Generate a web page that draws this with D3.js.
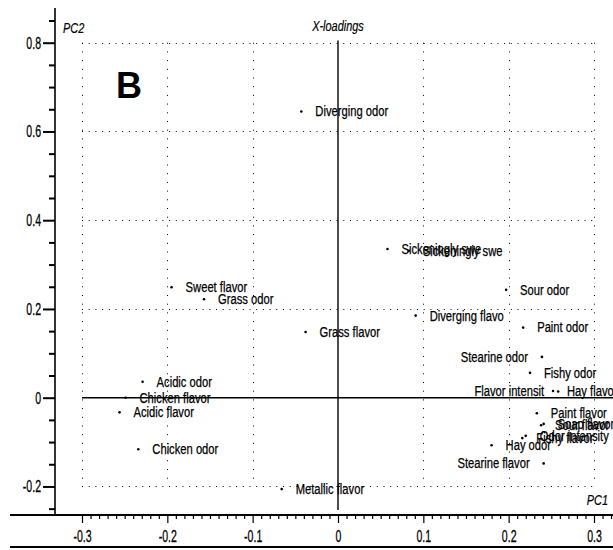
<!DOCTYPE html>
<html>
<head>
<meta charset="utf-8">
<script src="https://cdn.jsdelivr.net/npm/d3@7"></script>
<style>
  body { margin: 0; background: #fff; }
  svg { display: block; font-family: "Liberation Sans", Arial, sans-serif; }
</style>
</head>
<body>
<svg id="chart" width="613" height="550"></svg>
<script>
// Sensory attributes and their loadings on the first two principal components
const attributes = [
  "Diverging odor", "Sickeningly swe", "Sickeningly swe", "Sweet flavor", "Grass odor",
  "Sour odor", "Diverging flavo", "Paint odor", "Grass flavor", "Stearine odor",
  "Fishy  odor", "Acidic odor", "Flavor intensit", "Hay flavor", "Chicken flavor",
  "Acidic flavor", "Paint flavor", "Sour flavor", "Soap flavor", "Odor intensity",
  "Fishy flavor", "Hay odor", "Chicken odor", "Stearine flavor", "Metallic flavor"
];
const pc1 = [
  -0.043, 0.058, 0.083, -0.195, -0.157,
  0.197, 0.091, 0.217, -0.038, 0.239,
  0.225, -0.229, 0.258, 0.252, -0.249,
  -0.256, 0.233, 0.238, 0.241, 0.220,
  0.216, 0.180, -0.234, 0.241, -0.066
];
const pc2 = [
  0.645, 0.335, 0.331, 0.249, 0.222,
  0.243, 0.185, 0.158, 0.148, 0.092,
  0.056, 0.036, 0.014, 0.015, 0.000,
  -0.033, -0.035, -0.062, -0.059, -0.086,
  -0.091, -0.107, -0.116, -0.148, -0.206
];

// Tick values for the two axes
const xTickValues = [-0.3, -0.2, -0.1, 0, 0.1, 0.2, 0.3];
const yTickValues = [-0.2, 0, 0.2, 0.4, 0.6, 0.8];
const xGridValues = [-0.3, -0.2, -0.1, 0.1, 0.2, 0.3];
const yGridValues = [-0.2, 0.2, 0.4, 0.6, 0.8];

// Labels that sit to the left of their point (no room on the right)
const leftPlaced = ["Stearine odor", "Flavor intensit", "Stearine flavor"];

const W = 613, H = 550;
const svg = d3.select("#chart");

const x = d3.scaleLinear().domain([-0.3, 0.3]).range([82, 594]);
const y = d3.scaleLinear().domain([-0.2, 0.8]).range([486.45, 42.7]);

const fmt = v => (Math.abs(v) < 1e-9 ? "0" : String(+v.toFixed(2)));

// Squeeze text horizontally to mimic a narrow typeface
function condense(sel, f) {
  sel.each(function () {
    const w = this.getComputedTextLength();
    this.setAttribute("textLength", (w * f).toFixed(2));
    this.setAttribute("lengthAdjust", "spacingAndGlyphs");
  });
}
// Slightly heavier strokes for the narrow lettering
function ink(sel, w) {
  sel.attr("fill", "#000").attr("stroke", "#000").attr("stroke-width", w);
}

// ---- dotted grid ----
const grid = svg.append("g").attr("stroke", "#000").attr("fill", "none");
grid.selectAll("line.h").data(yGridValues).join("line")
  .attr("class", "h")
  .attr("x1", x(-0.3)).attr("x2", x(0.3))
  .attr("y1", d => Math.round(y(d)) + 0.5).attr("y2", d => Math.round(y(d)) + 0.5)
  .attr("stroke-width", 1).attr("stroke-dasharray", "1,5.7");
grid.selectAll("line.v").data(xGridValues).join("line")
  .attr("class", "v")
  .attr("x1", d => Math.round(x(d)) + 0.5).attr("x2", d => Math.round(x(d)) + 0.5)
  .attr("y1", y(0.8)).attr("y2", y(-0.2))
  .attr("stroke-width", 1).attr("stroke-dasharray", "1,7.7");

// ---- zero lines ----
svg.append("line")
  .attr("x1", x(-0.3)).attr("x2", W)
  .attr("y1", y(0)).attr("y2", y(0))
  .attr("stroke", "#000").attr("stroke-width", 1.6);
svg.append("line")
  .attr("x1", x(0)).attr("x2", x(0))
  .attr("y1", y(0.805)).attr("y2", y(-0.253))
  .attr("stroke", "#000").attr("stroke-width", 1.4);

// ---- left axis ----
const yAxisX = 55;
const yMinor = d3.range(-0.25, 0.851, 0.05).map(v => +v.toFixed(2))
  .filter(v => !yTickValues.some(t => Math.abs(t - v) < 1e-9));
const gyMinor = svg.append("g").attr("transform", `translate(${yAxisX},0)`)
  .call(d3.axisLeft(y).tickValues(yMinor).tickSize(6).tickFormat(""));
const gy = svg.append("g").attr("transform", `translate(${yAxisX},0)`)
  .call(d3.axisLeft(y).tickValues(yTickValues).tickSize(12).tickPadding(2).tickFormat(fmt));
[gy, gyMinor].forEach(g => {
  g.select(".domain").remove();
  g.selectAll(".tick line").attr("stroke", "#000").attr("stroke-width", 2);
});
gy.selectAll(".tick text")
  .attr("font-size", 17)
  .attr("font-family", "'Liberation Sans', Arial, sans-serif")
  .call(ink, 0.3)
  .call(condense, 0.62);
svg.append("line")
  .attr("x1", yAxisX).attr("x2", yAxisX).attr("y1", 8).attr("y2", 515)
  .attr("stroke", "#000").attr("stroke-width", 1.6);

// ---- bottom axis ----
const xAxisY = 515;
const xMinor = d3.range(-0.3, 0.3251, 0.01).map(v => +v.toFixed(2))
  .filter(v => !xTickValues.some(t => Math.abs(t - v) < 1e-9));
const gxMinor = svg.append("g").attr("transform", `translate(0,${xAxisY})`)
  .call(d3.axisBottom(x).tickValues(xMinor).tickSize(4).tickFormat(""));
const gx = svg.append("g").attr("transform", `translate(0,${xAxisY})`)
  .call(d3.axisBottom(x).tickValues(xTickValues).tickSize(8).tickPadding(7).tickFormat(fmt));
[gx, gxMinor].forEach(g => {
  g.select(".domain").remove();
  g.selectAll(".tick line").attr("stroke", "#000").attr("stroke-width", 1.2);
});
gx.selectAll(".tick text")
  .attr("font-size", 17)
  .attr("font-family", "'Liberation Sans', Arial, sans-serif")
  .call(ink, 0.3)
  .call(condense, 0.62);
svg.append("line")
  .attr("x1", 10).attr("x2", W).attr("y1", xAxisY).attr("y2", xAxisY)
  .attr("stroke", "#000").attr("stroke-width", 2);
svg.append("line")
  .attr("x1", 10).attr("x2", W).attr("y1", 547).attr("y2", 547)
  .attr("stroke", "#000").attr("stroke-width", 2);

// ---- titles ----
svg.append("text").text("PC2")
  .attr("x", 63).attr("y", 33).attr("font-size", 14).attr("font-style", "italic")
  .call(ink, 0.2)
  .call(condense, 0.78);
svg.append("text").text("X-loadings")
  .attr("x", x(0)).attr("y", 31).attr("text-anchor", "middle")
  .attr("font-size", 14).attr("font-style", "italic")
  .call(ink, 0.2)
  .call(condense, 0.78);
svg.append("text").text("PC1")
  .attr("x", 608).attr("y", 505).attr("text-anchor", "end")
  .attr("font-size", 14).attr("font-style", "italic")
  .call(ink, 0.2)
  .call(condense, 0.78);
svg.append("text").text("B")
  .attr("x", 116).attr("y", 98).attr("font-size", 36).attr("font-weight", "bold")
  .attr("font-family", "Arial, 'Liberation Sans', sans-serif");

// ---- loadings ----
const pts = attributes.map((name, i) => ({ name, px: pc1[i], py: pc2[i] }));
const gp = svg.append("g");
gp.selectAll("circle").data(pts).join("circle")
  .attr("cx", d => x(d.px)).attr("cy", d => y(d.py))
  .attr("r", 1.3).attr("fill", "#000");
gp.selectAll("text").data(pts).join("text")
  .text(d => d.name)
  .attr("x", d => leftPlaced.includes(d.name) ? x(d.px) - 14 : x(d.px) + 14)
  .attr("y", d => y(d.py))
  .attr("dy", "0.35em")
  .attr("text-anchor", d => leftPlaced.includes(d.name) ? "end" : "start")
  .attr("font-size", 14)
  .call(ink, 0.25)
  .call(condense, 0.8);
</script>
</body>
</html>
